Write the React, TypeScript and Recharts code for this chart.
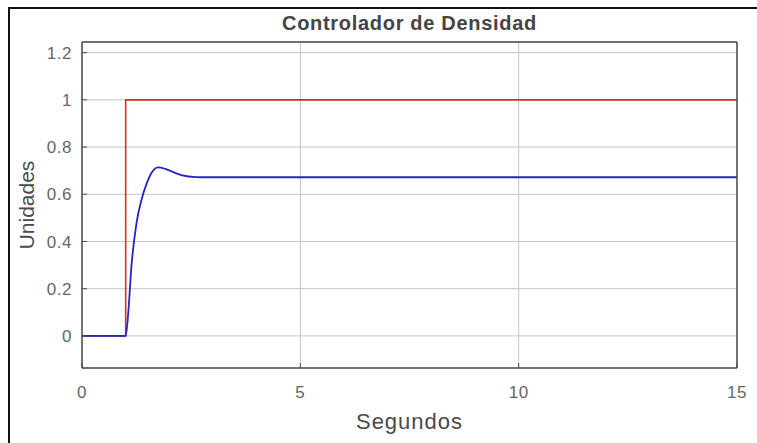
import { CartesianGrid, Line, LineChart, ReferenceArea, XAxis, YAxis } from "recharts"

// step reference (red) and plant output (blue)
const refTime = [0, 1, 1, 15]
const refValue = [0, 0, 1, 1]

const outTime = [0, 1, 1.06, 1.13, 1.25, 1.36, 1.48, 1.59, 1.74, 1.9, 2.05, 2.3, 2.6, 3, 15]
const outValue = [0, 0, 0.1, 0.29, 0.48, 0.575, 0.645, 0.69, 0.714, 0.708, 0.697, 0.68, 0.673, 0.672, 0.672]

const xTicks = [0, 5, 10, 15]
const yTicks = [0, 0.2, 0.4, 0.6, 0.8, 1, 1.2]

const title = "Controlador de Densidad"
const xTitle = "Segundos"
const yTitle = "Unidades"

const refData = refTime.map((t, i) => ({ t, v: refValue[i] }))
const outData = outTime.map((t, i) => ({ t, v: outValue[i] }))

const font = '"Liberation Sans", Arial, Helvetica, sans-serif'
const boxColor = "#4d4d4d"
const xDomain = [0, 15]
const yDomain = [-0.136, 1.245]
const tickFont = { fill: "#666", fontSize: 17, fontFamily: font, letterSpacing: 0.5 }

export default function App() {
  return (
    <div
      style={{
        position: "absolute",
        left: 0,
        top: 0,
        width: 757,
        height: 443,
        background: "#fff",
        overflow: "hidden",
        fontFamily: font,
      }}
    >
      {/* outer figure frame, only the top and left edges are in view */}
      <div style={{ position: "absolute", left: 8, top: 7, width: 749, height: 2, background: "#111" }} />
      <div style={{ position: "absolute", left: 8, top: 7, width: 2, height: 436, background: "#111" }} />
      <div
        style={{
          position: "absolute",
          left: 82,
          width: 655,
          top: 13,
          textAlign: "center",
          fontSize: 20,
          lineHeight: "20px",
          fontWeight: 700,
          letterSpacing: 0.7,
          color: "#444",
        }}
      >
        {title}
      </div>
      <LineChart
        width={757}
        height={443}
        margin={{ top: 41, right: 19, left: 0, bottom: 0 }}
        style={{ position: "absolute", left: 0, top: 0 }}
      >
        <CartesianGrid xAxisId="main" yAxisId="main" stroke="#c4c4c4" strokeWidth={1} />
        <XAxis
          xAxisId="main"
          dataKey="t"
          type="number"
          domain={xDomain}
          ticks={xTicks}
          height={75}
          allowDuplicatedCategory={false}
          tickSize={-5}
          tickMargin={23}
          stroke={boxColor}
          tick={tickFont}
          label={{
            value: xTitle,
            position: "insideBottom",
            offset: 14,
            style: { fill: "#4a4a4a", fontSize: 22, fontFamily: font, letterSpacing: 1 },
          }}
        />
        <XAxis
          xAxisId="top"
          orientation="top"
          dataKey="t"
          type="number"
          domain={xDomain}
          ticks={xTicks}
          height={1}
          allowDuplicatedCategory={false}
          tickSize={-5}
          tick={false}
          stroke={boxColor}
        />
        <YAxis
          yAxisId="main"
          type="number"
          domain={yDomain}
          ticks={yTicks}
          width={82}
          allowDataOverflow
          tickSize={-5}
          tickMargin={15}
          stroke={boxColor}
          tick={tickFont}
          label={{
            value: yTitle,
            angle: -90,
            position: "center",
            dx: -14,
            style: { fill: "#4a4a4a", fontSize: 21, fontFamily: font },
          }}
        />
        <YAxis
          yAxisId="right"
          orientation="right"
          type="number"
          domain={yDomain}
          ticks={yTicks}
          width={1}
          allowDataOverflow
          tickSize={-5}
          tick={false}
          stroke={boxColor}
        />
        {/* axes box */}
        <ReferenceArea
          xAxisId="main"
          yAxisId="main"
          x1={xDomain[0]}
          x2={xDomain[1]}
          y1={yDomain[0]}
          y2={yDomain[1]}
          fill="none"
          fillOpacity={0}
          stroke={boxColor}
          strokeWidth={1}
        />
        {/* invisible copy so the top and right box axes get drawn */}
        <Line
          xAxisId="top"
          yAxisId="right"
          data={refData}
          dataKey="v"
          type="linear"
          stroke="none"
          dot={false}
          activeDot={false}
          isAnimationActive={false}
        />
        <Line
          xAxisId="main"
          yAxisId="main"
          data={refData}
          dataKey="v"
          type="linear"
          stroke="#e02828"
          strokeWidth={1.6}
          dot={false}
          isAnimationActive={false}
        />
        <Line
          xAxisId="main"
          yAxisId="main"
          data={outData}
          dataKey="v"
          type="monotone"
          stroke="#2424c8"
          strokeWidth={1.8}
          dot={false}
          isAnimationActive={false}
        />
      </LineChart>
    </div>
  )
}
